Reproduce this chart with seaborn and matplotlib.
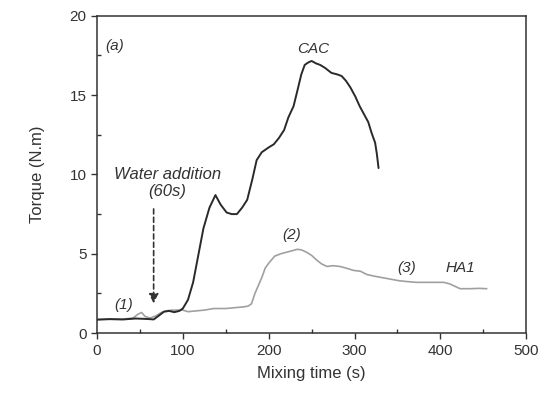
import numpy as np
import pandas as pd
import matplotlib.pyplot as plt
import seaborn as sns
from matplotlib.ticker import MultipleLocator

# CAC torque curve
cac_time = [0, 15, 30, 45, 55, 62, 66, 72, 78, 84, 90, 96, 100, 106, 112, 118, 124, 131, 138, 144, 151, 157, 163,
            169, 175, 181, 186, 192, 200, 206, 212, 218, 223, 229, 234, 238, 242, 246, 250, 255, 260, 266, 273, 280,
            285, 290, 295, 301, 306, 311, 316, 320, 324, 326, 328]
cac_torque = [0.85, 0.88, 0.86, 0.92, 0.9, 0.88, 0.86, 1.1, 1.35, 1.4, 1.32, 1.4, 1.55, 2.1, 3.2, 4.9, 6.6, 7.9, 8.7,
              8.1, 7.6, 7.5, 7.5, 7.9, 8.4, 9.7, 10.9, 11.4, 11.7, 11.9, 12.3, 12.8, 13.6, 14.3, 15.4, 16.3, 16.9,
              17.05, 17.15, 17.0, 16.9, 16.7, 16.4, 16.3, 16.2, 15.9, 15.5, 14.9, 14.3, 13.8, 13.3, 12.6, 12.0, 11.3,
              10.4]

# HA1 torque curve
ha1_time = [0, 15, 30, 42, 48, 52, 56, 62, 69, 75, 80, 88, 95, 100, 106, 115, 125, 136, 150, 160, 170, 176, 180,
            184, 188, 192, 196, 200, 207, 214, 221, 228, 233, 238, 244, 250, 256, 262, 268, 275, 283, 290, 299, 307,
            314, 322, 332, 342, 352, 361, 372, 385, 395, 404, 411, 417, 423, 435, 445, 454]
ha1_torque = [0.85, 0.9, 0.88, 0.95, 1.2, 1.3, 1.05, 0.95, 1.1, 1.3, 1.4, 1.45, 1.45, 1.45, 1.35, 1.4, 1.45, 1.55,
              1.55, 1.6, 1.65, 1.7, 1.85, 2.5, 3.0, 3.5, 4.1, 4.4, 4.85, 5.0, 5.1, 5.2, 5.28, 5.25, 5.1, 4.9, 4.6,
              4.35, 4.2, 4.25, 4.2, 4.1, 3.95, 3.9, 3.7, 3.6, 3.5, 3.4, 3.3, 3.25, 3.2, 3.2, 3.2, 3.2, 3.1, 2.95,
              2.8, 2.8, 2.82, 2.8]

cac = pd.DataFrame({"time": cac_time, "torque": cac_torque})
ha1 = pd.DataFrame({"time": ha1_time, "torque": ha1_torque})

sns.set_style("ticks")
plt.rcParams["font.family"] = ["Liberation Sans", "DejaVu Sans"]

fig, ax = plt.subplots(figsize=(5.51, 3.98), dpi=100)
fig.subplots_adjust(left=0.176, right=0.955, bottom=0.163, top=0.9605)

sns.lineplot(data=ha1, x="time", y="torque", color="#a0a0a0", linewidth=1.2, ax=ax)
sns.lineplot(data=cac, x="time", y="torque", color="#2a2a2a", linewidth=1.4, ax=ax)

# water addition arrow
ax.annotate("", xy=(66, 1.7), xytext=(66, 8.0),
            arrowprops=dict(arrowstyle="-|>", linestyle=(0, (3, 2)), color="#333333", lw=1.2,
                            mutation_scale=14))
ax.text(82, 10.0, "Water addition", ha="center", va="center", fontsize=12, style="italic", color="#333333")
ax.text(82, 8.95, "(60s)", ha="center", va="center", fontsize=12, style="italic", color="#333333")

ax.text(10, 18.1, "(a)", ha="left", va="center", fontsize=11, style="italic", color="#333333")
ax.text(252, 17.9, "CAC", ha="center", va="center", fontsize=11, style="italic", color="#333333")
ax.text(31, 1.8, "(1)", ha="center", va="center", fontsize=11, style="italic", color="#333333")
ax.text(227, 6.2, "(2)", ha="center", va="center", fontsize=11, style="italic", color="#333333")
ax.text(361, 4.1, "(3)", ha="center", va="center", fontsize=11, style="italic", color="#333333")
ax.text(423, 4.1, "HA1", ha="center", va="center", fontsize=11, style="italic", color="#333333")

ax.set_xlim(0, 500)
ax.set_ylim(0, 20)
ax.xaxis.set_major_locator(MultipleLocator(100))
ax.xaxis.set_minor_locator(MultipleLocator(50))
ax.yaxis.set_major_locator(MultipleLocator(5))
ax.yaxis.set_minor_locator(MultipleLocator(2.5))
ax.tick_params(which="major", direction="out", length=4, width=1, labelsize=11, colors="#333333")
ax.tick_params(which="minor", direction="in", length=3, width=1, colors="#333333")
for s in ax.spines.values():
    s.set_color("#333333")
    s.set_linewidth(1.1)

ax.set_xlabel("Mixing time (s)", fontsize=12, color="#333333", labelpad=6)
ax.set_ylabel("Torque (N.m)", fontsize=12, color="#333333", labelpad=18)

fig.savefig("out.png", dpi=100)
